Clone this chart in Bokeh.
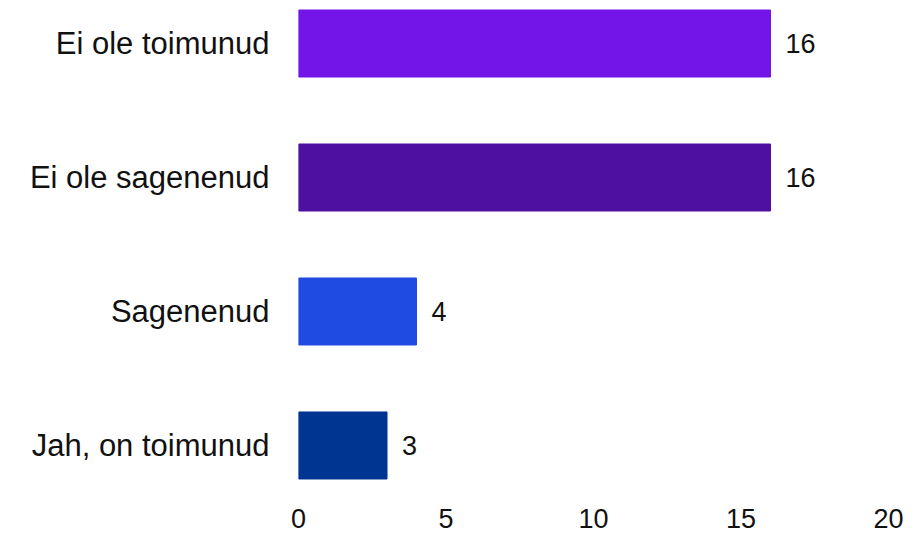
from bokeh.plotting import figure
from bokeh.models import FactorRange, Range1d, FixedTicker, ColumnDataSource
from bokeh.core.properties import value
from bokeh.embed import file_html
from bokeh.resources import INLINE

categories = ["Ei ole toimunud", "Ei ole sagenenud", "Sagenenud", "Jah, on toimunud"]
counts = [16, 16, 4, 3]
colors = ["#7314E8", "#4E10A0", "#1F4BE2", "#003591"]
x_ticks = [0, 5, 10, 15, 20]

FONT = "Liberation Sans"
CAT_FS = "31px"
NUM_FS = "27px"

src = ColumnDataSource(data=dict(cat=categories, val=counts, color=colors,
                                 label=[str(v) for v in counts]))

y_range = FactorRange(factors=list(reversed(categories)),
                      range_padding=-0.0895, range_padding_units="percent")

p = figure(width=904, height=540, y_range=y_range, x_range=Range1d(0, 20),
           output_backend="svg", toolbar_location=None,
           min_border_left=298, min_border_right=16,
           min_border_top=0, min_border_bottom=52)

p.hbar(y="cat", right="val", left=0, height=0.5, color="color", source=src)
p.text(x="val", y="cat", text="label", source=src, x_offset=15,
       text_baseline="middle", text_align="left",
       text_font=value(FONT), text_font_size=NUM_FS, text_color="#111111")

p.xgrid.visible = False
p.ygrid.visible = False
p.outline_line_color = None

p.xaxis.ticker = FixedTicker(ticks=x_ticks)
for ax in (p.xaxis, p.yaxis):
    ax.axis_line_color = None
    ax.major_tick_line_color = None
    ax.minor_tick_line_color = None
    ax.major_tick_out = 0
    ax.major_tick_in = 0
    ax.major_label_text_font = FONT
    ax.major_label_text_color = "#111111"

p.yaxis.major_label_text_font_size = CAT_FS
p.xaxis.major_label_text_font_size = NUM_FS
p.yaxis.major_label_standoff = 29
p.xaxis.major_label_standoff = 20

open("out.html", "w").write(file_html(p, INLINE))
